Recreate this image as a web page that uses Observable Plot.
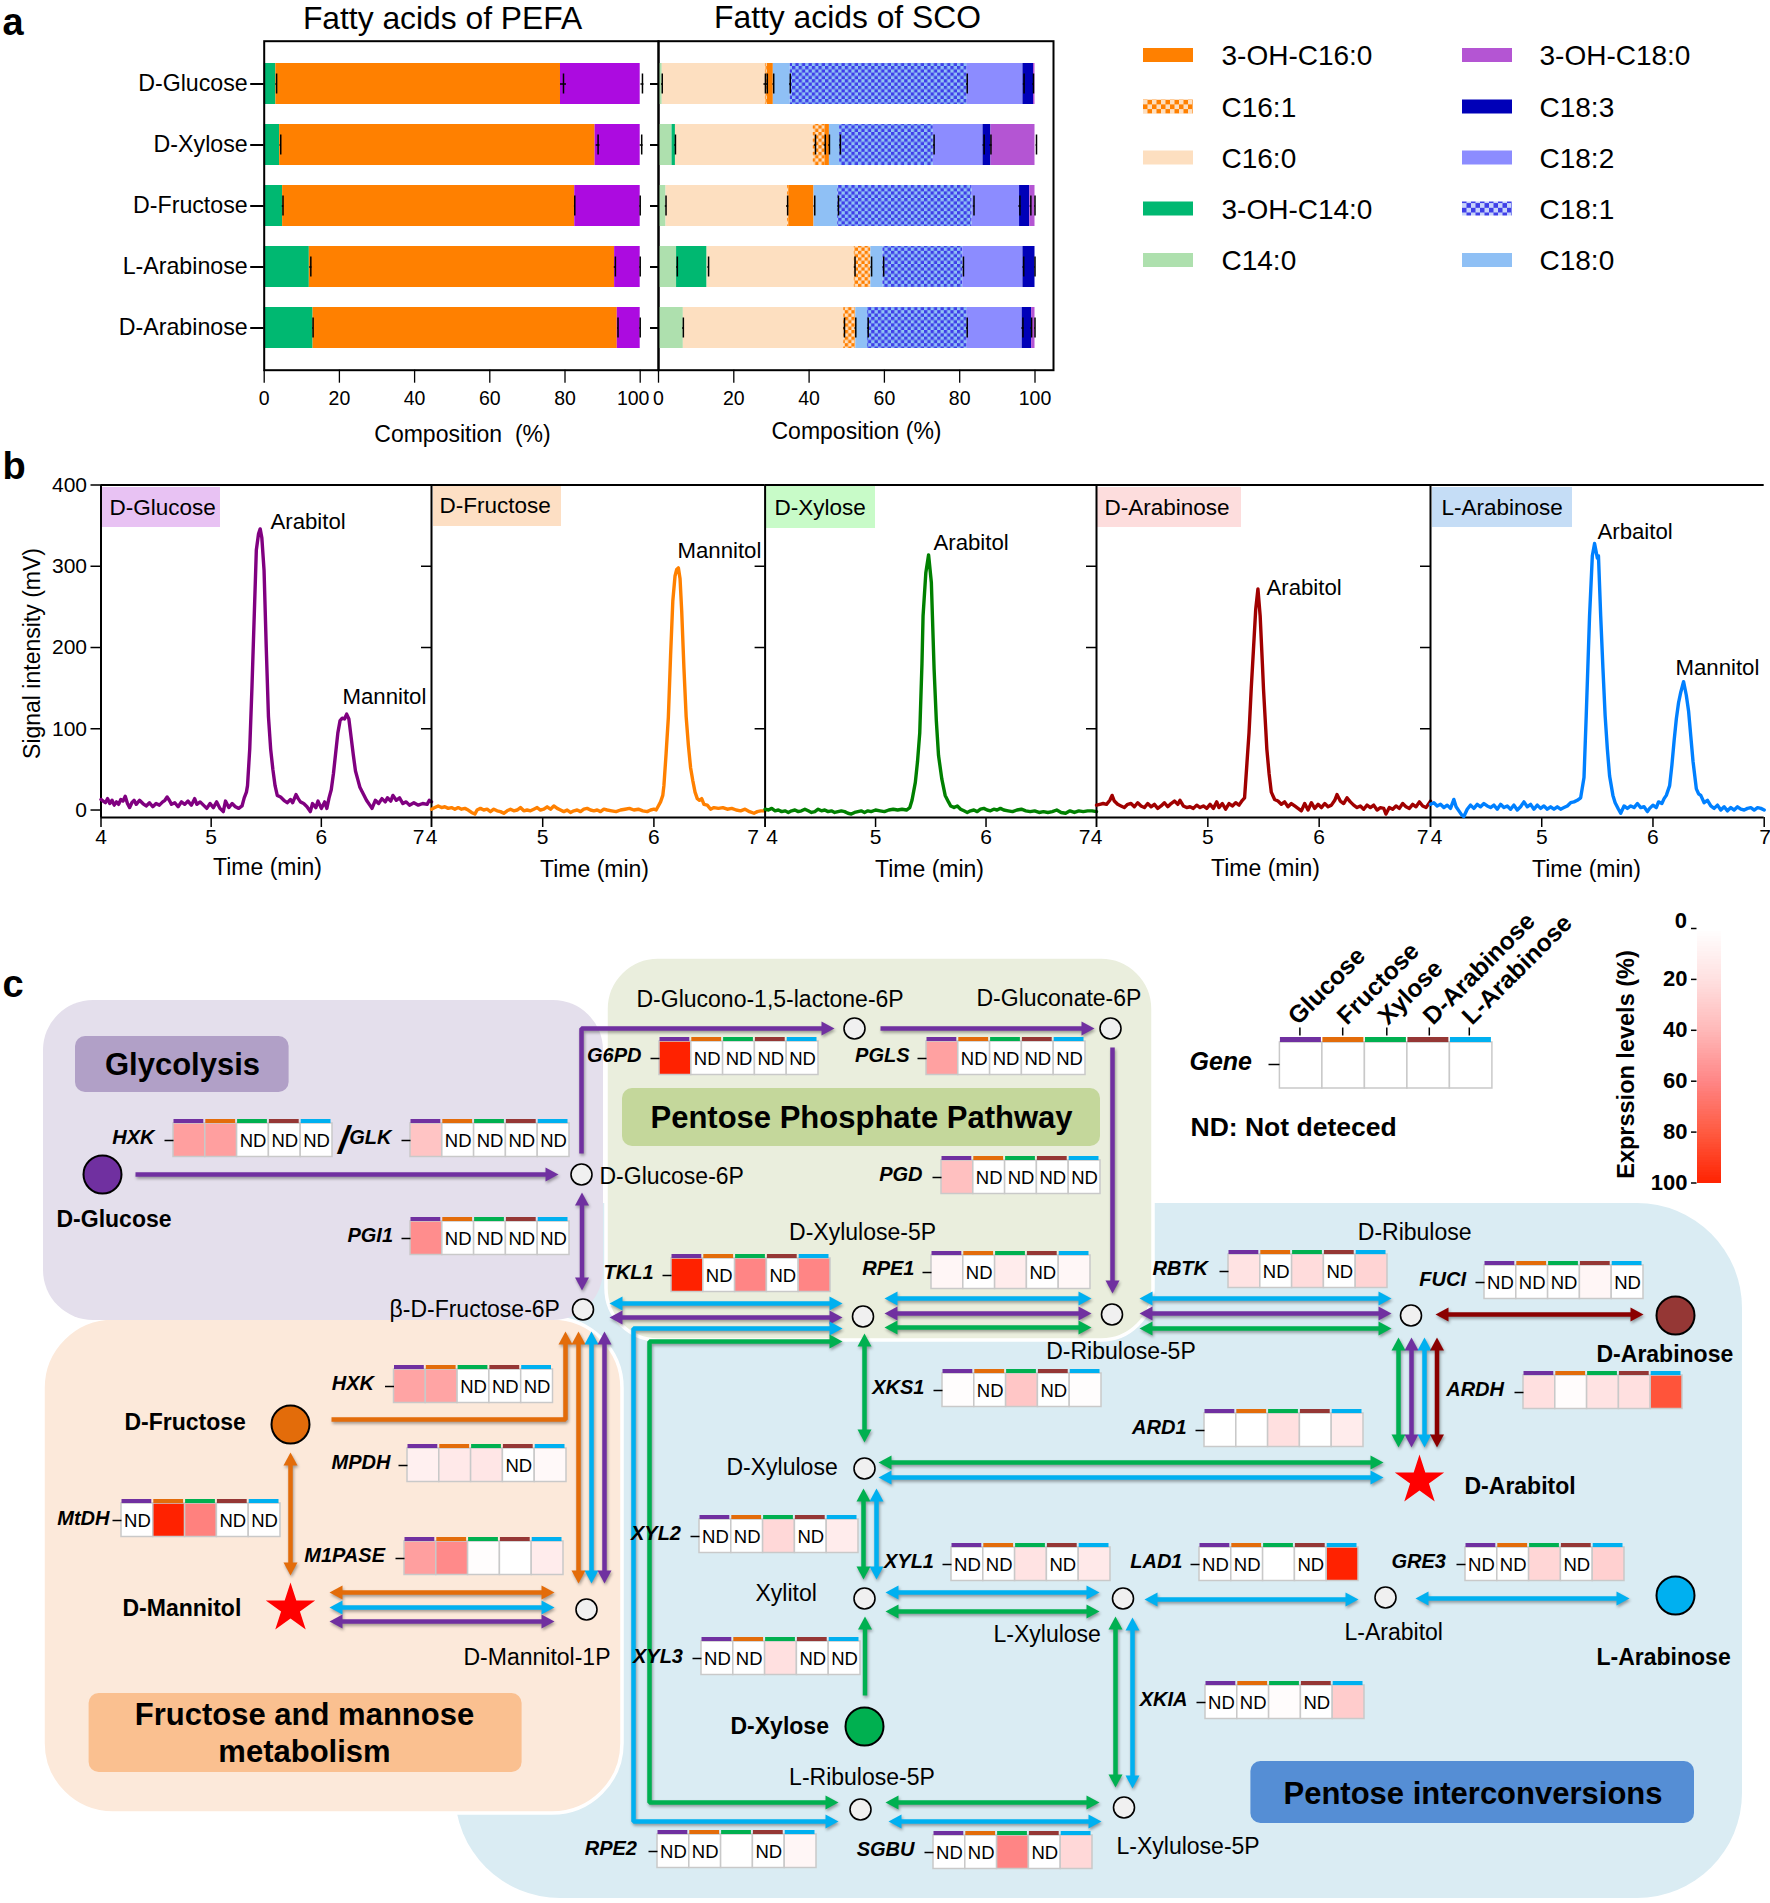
<!DOCTYPE html>
<html><head><meta charset="utf-8">
<script src="https://cdn.jsdelivr.net/npm/d3@7"></script>
<script src="https://cdn.jsdelivr.net/npm/@observablehq/plot@0.6"></script>
<style>
html,body{margin:0;padding:0;background:#fff}
#page{position:relative;width:1770px;height:1903px;overflow:hidden;font-family:"Liberation Sans",Arial,sans-serif}
</style></head><body>
<svg width="0" height="0" style="position:absolute">
<defs>
<pattern id="chkO" patternUnits="userSpaceOnUse" width="6.6" height="6.6"><rect width="6.6" height="6.6" fill="#FDDFC0"/><rect width="3.3" height="3.3" fill="#FF8000"/><rect x="3.3" y="3.3" width="3.3" height="3.3" fill="#FF8000"/></pattern>
<pattern id="chkB" patternUnits="userSpaceOnUse" width="6.6" height="6.6"><rect width="6.6" height="6.6" fill="#8FC0F5"/><rect width="3.3" height="3.3" fill="#3F3FE8"/><rect x="3.3" y="3.3" width="3.3" height="3.3" fill="#3F3FE8"/></pattern>
<pattern id="chkOL" patternUnits="userSpaceOnUse" width="9" height="9.4" x="1143" y="48"><rect width="9" height="9.4" fill="#FDDFC0"/><rect width="4.5" height="4.7" fill="#FF8000"/><rect x="4.5" y="4.7" width="4.5" height="4.7" fill="#FF8000"/></pattern>
<pattern id="chkBL" patternUnits="userSpaceOnUse" width="9" height="9.4" x="1462" y="48"><rect width="9" height="9.4" fill="#C8D4FA"/><rect width="4.5" height="4.7" fill="#3F3FE8"/><rect x="4.5" y="4.7" width="4.5" height="4.7" fill="#3F3FE8"/></pattern>
</defs></svg>
<div id="page"></div>
<script>
// ---------- panel a data ----------
const sugarsA = ["D-Glucose","D-Xylose","D-Fructose","L-Arabinose","D-Arabinose"];
const acidsPEFA = ["3-OH-C14:0","3-OH-C16:0","3-OH-C18:0"];
const pefaValues = {
  "3-OH-C14:0":[3.1,4.1,4.9,12,13],
  "3-OH-C16:0":[75.7,83.9,77.7,81.2,80.9],
  "3-OH-C18:0":[21.2,12,17.4,6.8,6.1]
};
const acidsSCO = ["C14:0","3-OH-C14:0","C16:0","C16:1","3-OH-C16:0","C18:0","C18:1","C18:2","C18:3","3-OH-C18:0"];
const scoValues = {
  "C14:0":[1,3.6,2,4.8,6.6],
  "3-OH-C14:0":[0,0.9,0,8.1,0],
  "C16:0":[27.4,36.6,32.3,39.1,42.6],
  "C16:1":[0.5,3.1,0.3,4.4,3.2],
  "3-OH-C16:0":[1.6,1.2,6.7,0,0],
  "C18:0":[4.5,2.7,6.3,3.2,3.1],
  "C18:1":[47,24.9,35.7,21.2,26.5],
  "C18:2":[14.8,13.2,12.6,16,14.6],
  "C18:3":[2.8,2.1,2.7,3.2,2.5],
  "3-OH-C18:0":[0.4,11.7,1.4,0,0.9]
};
const pefaTicks = [[0,3.3,0.2],[0,79.6,0.8],[0,100.6,0.4],[1,4.4,0.2],[1,88.8,0.5],[1,100.4,0.4],[2,5,0.2],[2,82.6,0.1],[2,100,0.1],[3,12.4,0.3],[3,93.4,0.3],[3,100,0.1],[4,13,0.1],[4,94.1,0.1],[4,100,0.1]];
const scoTicks = [[0,1,0.2],[0,28.4,0.4],[0,28.9,0.2],[0,30.6,0.2],[0,35,0.2],[0,82,0.2],[0,97.1,0.2],[0,99.6,0.2],
 [1,4.5,0.2],[1,41.7,0.3],[1,44.3,0.3],[1,45.4,0.2],[1,48.3,0.2],[1,73.2,0.2],[1,86.5,0.3],[1,88.3,0.3],[1,100.4,0.1],
 [2,2,0.2],[2,34.3,0.3],[2,41.5,0.2],[2,47.8,0.2],[2,83.8,0.2],[2,96,0.3],[2,98.9,0.2],[2,100,0.1],
 [3,5,0.2],[3,13.3,0.2],[3,52.2,0.2],[3,56.6,0.2],[3,59.8,0.2],[3,81,0.2],[3,97,0.2],[3,100,0.1],
 [4,6.6,0.2],[4,49.4,0.2],[4,52.4,0.2],[4,55.7,0.2],[4,82,0.2],[4,96.8,0.3],[4,99.1,0.2],[4,100,0.1]];
const pefaColors = ["#00B871","#FF8000","#AC0BE0"];
const scoColors = ["#AEE0AE","#00B871","#FDDFC0","url(#chkO)","#FF8000","#8FC0F5","url(#chkB)","#8C8CFF","#0000B8","#B455D3"];
const legendLeft = ["3-OH-C16:0","C16:1","C16:0","3-OH-C14:0","C14:0"];
const legendLeftFill = ["#FF8000","url(#chkOL)","#FDDFC0","#00B871","#AEE0AE"];
const legendRight = ["3-OH-C18:0","C18:3","C18:2","C18:1","C18:0"];
const legendRightFill = ["#B455D3","#0000B8","#8C8CFF","url(#chkBL)","#8FC0F5"];
const xTicksA = [0,20,40,60,80,100];

// ---------- panel b data ----------
const sugarsB = ["D-Glucose","D-Fructose","D-Xylose","D-Arabinose","L-Arabinose"];
const traceColors = ["#800080","#FF8000","#008000","#A00000","#0080FF"];
const labelBg = ["#E8C2F3","#FDDFC4","#C8FBC8","#FDDDDD","#C5DDF6"];
const traceGlucose = [[4,13],[4.02,11],[4.04,9],[4.06,14],[4.08,8],[4.1,12],[4.12,6],[4.14,10],[4.16,7],[4.18,13],[4.2,11],[4.22,17],[4.24,8],[4.26,3],[4.28,9],[4.3,12],[4.32,7],[4.35,12],[4.38,8],[4.41,5],[4.44,9],[4.47,4],[4.5,8],[4.53,6],[4.56,10],[4.58,12],[4.6,16],[4.62,12],[4.64,7],[4.67,9],[4.7,4],[4.73,10],[4.76,7],[4.79,11],[4.82,6],[4.85,14],[4.87,7],[4.9,10],[4.93,6],[4.96,2],[4.99,8],[5.02,3],[5.05,10],[5.08,2],[5.11,-2],[5.13,11],[5.16,3],[5.19,8],[5.22,4],[5.25,2],[5.28,5],[5.3,15],[5.32,22],[5.33,30],[5.35,75],[5.37,150],[5.39,235],[5.41,320],[5.43,340],[5.445,346],[5.46,335],[5.48,295],[5.5,200],[5.52,115],[5.54,75],[5.56,50],[5.58,30],[5.6,18],[5.63,16],[5.66,12],[5.69,9],[5.72,13],[5.74,9],[5.77,19],[5.79,14],[5.81,10],[5.84,8],[5.87,4],[5.9,-2],[5.92,8],[5.95,3],[5.97,11],[6,2],[6.03,10],[6.05,2],[6.07,15],[6.09,25],[6.11,45],[6.13,70],[6.15,95],[6.17,110],[6.19,113],[6.21,112],[6.23,118],[6.25,112],[6.27,90],[6.29,68],[6.31,48],[6.33,38],[6.35,28],[6.38,20],[6.41,12],[6.44,6],[6.46,2],[6.49,12],[6.52,8],[6.55,14],[6.58,10],[6.6,15],[6.63,11],[6.65,18],[6.68,12],[6.71,15],[6.74,8],[6.77,10],[6.8,6],[6.84,9],[6.88,6],[6.92,8],[6.96,7],[6.98,12],[7,10]];
const traceFructose = [[4,1],[4.03,3],[4.06,5],[4.09,3],[4.12,4],[4.15,2],[4.18,3],[4.21,1],[4.24,3],[4.27,1],[4.3,2],[4.33,0],[4.36,-3],[4.39,-5],[4.41,0],[4.44,2],[4.47,0],[4.5,1],[4.53,-2],[4.56,1],[4.59,-1],[4.62,-2],[4.65,-4],[4.68,-1],[4.71,1],[4.74,-1],[4.77,0],[4.8,3],[4.83,-1],[4.86,0],[4.89,-1],[4.92,1],[4.95,3],[4.98,0],[5.01,1],[5.04,4],[5.07,1],[5.1,5],[5.13,2],[5.16,0],[5.19,-2],[5.22,0],[5.25,-3],[5.28,-1],[5.31,0],[5.34,-2],[5.37,1],[5.4,2],[5.43,0],[5.46,-1],[5.49,0],[5.52,-2],[5.55,1],[5.58,0],[5.62,-1],[5.66,-2],[5.7,0],[5.74,1],[5.78,2],[5.82,0],[5.86,1],[5.9,-1],[5.94,-2],[5.97,0],[6,1],[6.02,0],[6.04,5],[6.06,10],[6.08,18],[6.09,30],[6.11,70],[6.13,114],[6.15,190],[6.17,257],[6.19,288],[6.205,296],[6.22,298],[6.235,285],[6.25,245],[6.27,175],[6.29,115],[6.31,80],[6.33,52],[6.35,36],[6.37,22],[6.39,14],[6.41,12],[6.43,14],[6.45,7],[6.48,6],[6.51,1],[6.54,3],[6.58,2],[6.62,3],[6.66,1],[6.7,2],[6.74,0],[6.78,-1],[6.82,1],[6.86,-2],[6.9,-4],[6.93,-2],[6.96,-1],[7,-1]];
const traceXylose = [[4,1],[4.03,0],[4.06,2],[4.09,-1],[4.12,0],[4.15,-2],[4.18,-1],[4.21,-3],[4.24,-1],[4.27,0],[4.3,-2],[4.33,-1],[4.36,1],[4.39,-1],[4.42,-3],[4.45,-2],[4.48,1],[4.51,-1],[4.54,0],[4.57,-2],[4.6,-1],[4.63,-3],[4.66,-2],[4.69,-1],[4.72,-2],[4.75,-4],[4.78,-5],[4.81,-3],[4.84,-2],[4.87,-1],[4.9,-3],[4.93,-1],[4.96,-2],[5,0],[5.04,-1],[5.08,-2],[5.12,0],[5.16,1],[5.2,0],[5.24,1],[5.28,0],[5.31,3],[5.33,12],[5.36,34],[5.38,60],[5.4,95],[5.42,180],[5.43,239],[5.455,292],[5.48,314],[5.505,280],[5.53,173],[5.55,110],[5.57,67],[5.6,38],[5.63,18],[5.66,10],[5.68,5],[5.71,3],[5.74,5],[5.77,1],[5.8,-1],[5.83,-3],[5.86,-1],[5.89,0],[5.92,-2],[5.95,1],[5.98,2],[6.01,0],[6.04,-1],[6.07,1],[6.1,0],[6.13,2],[6.16,0],[6.2,-1],[6.24,-2],[6.28,0],[6.32,1],[6.36,-1],[6.4,-2],[6.44,-1],[6.48,-3],[6.52,-2],[6.56,-3],[6.6,-2],[6.64,0],[6.68,-3],[6.72,-4],[6.76,-1],[6.8,-3],[6.84,-1],[6.88,-2],[6.92,-1],[6.96,-1],[7,-2]];
const traceDArabinose = [[4,6],[4.03,7],[4.06,8],[4.09,7],[4.12,12],[4.14,18],[4.16,11],[4.19,7],[4.22,5],[4.25,3],[4.28,7],[4.31,8],[4.34,4],[4.37,9],[4.4,5],[4.43,3],[4.46,8],[4.49,4],[4.52,7],[4.55,2],[4.58,5],[4.61,9],[4.64,4],[4.67,8],[4.7,11],[4.73,7],[4.75,12],[4.78,5],[4.81,3],[4.84,4],[4.87,2],[4.9,6],[4.93,3],[4.96,5],[4.99,2],[5.02,7],[5.05,2],[5.08,10],[5.1,3],[5.13,8],[5.16,1],[5.19,8],[5.22,5],[5.25,9],[5.28,6],[5.31,12],[5.33,15],[5.35,55],[5.37,95],[5.39,150],[5.41,198],[5.43,247],[5.45,272],[5.47,239],[5.49,180],[5.5,149],[5.52,100],[5.53,75],[5.55,45],[5.57,22],[5.6,13],[5.63,11],[5.66,7],[5.69,10],[5.72,4],[5.75,8],[5.78,5],[5.81,2],[5.84,-1],[5.87,8],[5.9,0],[5.93,9],[5.96,2],[5.99,7],[6.02,3],[6.05,8],[6.08,4],[6.11,6],[6.14,12],[6.16,19],[6.19,11],[6.22,8],[6.25,15],[6.28,10],[6.31,6],[6.34,3],[6.37,5],[6.4,1],[6.43,6],[6.46,3],[6.49,6],[6.52,0],[6.55,3],[6.58,2],[6.6,-5],[6.63,3],[6.66,1],[6.69,5],[6.72,2],[6.75,8],[6.78,4],[6.81,2],[6.84,7],[6.87,4],[6.9,10],[6.93,5],[6.96,3],[6.98,7],[7,11]];
const traceLArabinose = [[4,7],[4.03,9],[4.06,5],[4.09,7],[4.12,3],[4.15,6],[4.18,2],[4.21,13],[4.23,4],[4.26,-2],[4.28,-6],[4.3,-8],[4.33,1],[4.36,6],[4.39,2],[4.42,7],[4.45,4],[4.48,8],[4.51,5],[4.54,3],[4.57,6],[4.6,1],[4.63,7],[4.66,3],[4.69,5],[4.72,1],[4.75,6],[4.78,0],[4.81,4],[4.84,10],[4.87,4],[4.9,7],[4.93,1],[4.96,6],[4.99,2],[5.02,5],[5.05,1],[5.08,4],[5.11,1],[5.14,4],[5.17,1],[5.2,3],[5.23,5],[5.26,9],[5.29,10],[5.32,12],[5.35,15],[5.38,40],[5.4,116],[5.43,239],[5.455,313],[5.475,328],[5.5,310],[5.51,313],[5.53,239],[5.55,175],[5.57,116],[5.59,75],[5.61,42],[5.64,18],[5.66,9],[5.69,1],[5.71,-4],[5.74,5],[5.77,2],[5.8,5],[5.83,3],[5.86,8],[5.89,3],[5.92,4],[5.95,-2],[5.97,2],[6,6],[6.03,3],[6.05,10],[6.08,8],[6.1,14],[6.12,18],[6.15,30],[6.17,55],[6.19,85],[6.21,112],[6.23,132],[6.25,145],[6.275,158],[6.29,148],[6.3,141],[6.32,122],[6.34,91],[6.36,60],[6.39,26],[6.41,20],[6.43,18],[6.46,9],[6.49,12],[6.52,5],[6.55,2],[6.58,6],[6.61,0],[6.64,4],[6.67,-1],[6.7,3],[6.73,0],[6.76,4],[6.79,1],[6.82,0],[6.85,2],[6.88,3],[6.91,0],[6.94,3],[6.97,2],[7,0]];
const traces = [traceGlucose,traceFructose,traceXylose,traceDArabinose,traceLArabinose];
const yTicksB = [0,100,200,300,400];
const xTicksB = [4,5,6,7];

// ---------- panel c data ----------
const geneOrder = ["Glucose","Fructose","Xylose","D-Arabinose","L-Arabinose"];
const geneStripe = ["#7030A0","#E36C0A","#00B050","#953735","#00B0F0"];
const ND = null;
const geneNames = ["HXK","GLK","PGI1","G6PD","PGLS","PGD","TKL1","RPE1","XKS1","RBTK","FUCI","ARDH","ARD1","XYL2","XYL1","LAD1","GRE3","XYL3","XKIA","RPE2","SGBU","HXK","MPDH","MtDH","M1PASE"];
const geneLevels = [
 [50,50,ND,ND,ND],[34,ND,ND,ND,ND],[57,ND,ND,ND,ND],[100,ND,ND,ND,ND],[49,ND,ND,ND,ND],[36,ND,ND,ND,ND],
 [100,ND,60,ND,60],[6,ND,12,ND,5],[1,ND,33,ND,1],[18,ND,22,ND,26],[ND,ND,ND,6,ND],[20,2,18,20,82],[0,0,20,0,12],
 [ND,ND,24,ND,12],[ND,ND,18,ND,14],[ND,ND,0,ND,100],[ND,ND,25,ND,28],[ND,ND,20,ND,ND],[ND,ND,2,ND,30],[ND,ND,0,ND,6],[ND,ND,60,ND,24],
 [48,48,ND,ND,ND],[10,14,16,ND,4],[ND,100,62,ND,ND],[50,58,1,0,12]
];
const scaleTicks = [0,20,40,60,80,100];
const scaleRange = ["#ffffff","#ffe0e0","#ffb8b8","#ff8585","#ff5a40","#ff2200"];

// ---------- layout of the pathway diagram (page pixels) ----------
const genePlace = [[173,1119,154,1137],[410,1119,391,1137],[410,1217,392.5,1235],[659,1037,641,1055],[926,1037,909,1055],[941,1156,922,1174],[671,1254,653,1272],[931,1251,914,1268],[942,1369,924,1387],[1228,1250,1207.5,1268],[1484,1261,1465.5,1279],[1523,1371,1503.5,1389],[1204,1409,1186,1427],[699,1515,680.5,1533],[951,1543,933.5,1561],[1199,1543,1182,1561],[1465,1543,1445.5,1561],[701,1637,682.5,1656],[1205,1681,1187,1699],[657,1830,636.5,1848],[933,1831,914,1849],[393.5,1365,373.5,1383],[407,1444,390,1462],[121,1499,109,1518],[404,1537,384.5,1555]];
const regions = [
 [455,1203,1742,1898,105,"#DAECF3",null],
 [43,1318,622,1813,70,"#FCE9DA","#fff"],
 [43,1000,603,1320,50,"#E4DFEC",null],
 [606,957,1153,1340,52,"#EAEEDD","#fff"]
];
const badges = [
 [75,1036,288.6,1092,"#B1A0C7"],[622,1088,1100,1146,"#C4D79B"],[88.6,1693,521.6,1772,"#FAC090"],[1250.4,1761,1694,1823,"#558ED5"]
];
const badgeText = [["Glycolysis",182,1065,31],["Pentose Phosphate Pathway",861,1118,31],["Fructose and mannose",304,1715,31],["metabolism",304,1752,31],["Pentose interconversions",1472.5,1794,31]];
const P="#7030A0",O="#E36C0A",G="#00B050",R="#8B0000",B="#00B0F0";
const arrowsOne = [
 [P,[[135,1174],[558,1174]]],[P,[[581,1153],[581,1028],[834,1028]]],[P,[[880,1028],[1094,1028]]],[P,[[1112,1047],[1112,1293]]],
 [G,[[864.5,1695],[864.5,1616]]],[O,[[331,1419],[565,1419],[565,1331]]]
];
const arrowsTwo = [
 [P,[[581.5,1192],[581.5,1290]]],[B,[[609,1303],[842,1303]]],[P,[[609,1317],[842,1317]]],
 [B,[[838,1821],[633,1821],[633,1328],[842,1328]]],[G,[[838,1802],[649,1802],[649,1341],[842,1341]]],
 [B,[[884,1298],[1091,1298]]],[P,[[884,1313],[1091,1313]]],[G,[[884,1327],[1091,1327]]],
 [B,[[1139,1298],[1391,1298]]],[P,[[1139,1313],[1391,1313]]],[G,[[1139,1328],[1391,1328]]],
 [R,[[1435,1314],[1643,1314]]],
 [G,[[1398,1337],[1398,1447]]],[P,[[1411,1337],[1411,1447]]],[B,[[1424,1337],[1424,1447]]],[R,[[1436.5,1337],[1436.5,1447]]],
 [G,[[864,1333],[864,1442]]],[G,[[878,1462],[1383,1462]]],[B,[[878,1477],[1383,1477]]],
 [G,[[863,1488],[863,1579]]],[B,[[876,1488],[876,1579]]],
 [B,[[885,1592],[1099,1592]]],[G,[[885,1611],[1099,1611]]],
 [G,[[1115,1616],[1115,1787]]],[B,[[1132,1617],[1132,1788]]],
 [G,[[885,1802],[1099,1802]]],[B,[[888,1821],[1101,1821]]],
 [B,[[1144,1599],[1358,1599]]],[B,[[1415,1598],[1629,1598]]],
 [O,[[578,1331],[578,1583]]],[B,[[591,1331],[591,1583]]],[P,[[604,1331],[604,1583]]],
 [O,[[290,1452],[290,1575]]],
 [O,[[329,1592],[554,1592]]],[B,[[329,1607],[554,1607]]],[P,[[329,1621],[554,1621]]]
];
const smallNodes = [[581,1174],[582.5,1309],[854,1028],[1110,1028],[862.5,1316],[1111.5,1314],[1410.5,1315],[864,1468],[864,1598],[1122.5,1598],[860,1809],[1123.5,1807],[1385,1597],[586,1609]];
const bigNodes = [[102,1174,P],[290,1424,O],[864,1726,G],[1675,1315,"#953735"],[1675,1595,B]];
const stars = [[290,1608],[1419,1480]];
const nodeLabels = [["D-Glucono-1,5-lactone-6P",636,999],["D-Gluconate-6P",976,998],["D-Glucose-6P",599,1176],["β-D-Fructose-6P",389,1309],["D-Xylulose-5P",788.6,1232],["D-Ribulose-5P",1045.7,1351],["D-Ribulose",1357.3,1232],["D-Xylulose",726,1467],["Xylitol",755,1593],["L-Xylulose",993,1634],["L-Ribulose-5P",788.6,1777],["L-Xylulose-5P",1116,1846],["L-Arabitol",1344,1632],["D-Mannitol-1P",463,1657]];
const boldLabels = [["D-Glucose",56,1219],["D-Fructose",124,1422],["D-Mannitol",122,1608],["D-Xylose",730,1726],["D-Arabinose",1596,1354],["D-Arabitol",1464,1486],["L-Arabinose",1596,1657]];
const keyPlace = [[1292,1020],[1341,1020],[1382,1020],[1427,1020],[1466,1020]];
const keyTicks = [1299.4,1342.2,1386.3,1428.8,1468.8];

// ---------- helpers ----------
const FONT = '"Liberation Sans",Arial,sans-serif';
const pageEl = document.getElementById("page");
const baseStyle = {background:"transparent",position:"absolute",left:"0",top:"0",fontFamily:FONT,color:"#000",overflow:"visible"};
const add = (svg)=>{svg.style.maxWidth="none";pageEl.appendChild(svg);};
function headMarker(){
  const NS="http://www.w3.org/2000/svg";
  return (color)=>{
    const m=document.createElementNS(NS,"marker");
    m.setAttribute("viewBox","-6 -7.5 15 15");
    m.setAttribute("markerUnits","userSpaceOnUse");
    m.setAttribute("markerWidth","15");m.setAttribute("markerHeight","15");
    m.setAttribute("refX","0");m.setAttribute("refY","0");
    m.setAttribute("orient","auto-start-reverse");
    const p=document.createElementNS(NS,"path");
    p.setAttribute("d","M-5,-7L8,0L-5,7Z");p.setAttribute("fill",color);
    m.appendChild(p);return m;
  };
}
// tip coordinates to line ends: the head reaches 8px past the line's end
function pull(a,b){const dx=b[0]-a[0],dy=b[1]-a[1],l=Math.hypot(dx,dy);return [a[0]+dx/l*8,a[1]+dy/l*8];}
function arrowRows(list,both){
  const rows=[];
  list.forEach(([color,pts],id)=>{
    const q=pts.map(p=>p.slice());
    q[q.length-1]=pull(q[q.length-1],q[q.length-2]);
    if(both) q[0]=pull(q[0],q[1]);
    q.forEach(p=>rows.push({id,color,x:p[0],y:p[1]}));
  });
  return rows;
}
const textRows=(list,size,extra={})=>Plot.text(list,{x:d=>d[1],y:d=>d[2],text:d=>d[0],fontSize:size,textAnchor:"start",fill:"#000",...extra});

// ---------- diagram and free text (page pixel frame) ----------
const cells=[],stripes=[],ndText=[],dashes=[],names=[];
const CW=31.8,CH=33.5;
geneNames.forEach((name,g)=>{
  const [x0,y0,nr,ny]=genePlace[g];
  names.push({name,x:nr,y:ny});
  dashes.push({x1:x0-9,x2:x0,y:y0+21});
  geneLevels[g].forEach((lv,i)=>{
    const x=x0+i*CW;
    cells.push({x1:x,x2:x+CW,y1:y0+4,y2:y0+4+CH,lv:lv==null?0:lv});
    stripes.push({x1:x+0.5,x2:x+CW-1.5,y1:y0,y2:y0+4,c:geneStripe[i]});
    if(lv==null) ndText.push({x:x+CW/2,y:y0+22});
  });
});
const KW=42.5;
const keyCells=geneOrder.map((n,i)=>({x1:1279.4+i*KW,x2:1279.4+(i+1)*KW,y1:1042,y2:1088,lv:0}));
const keyStripes=geneOrder.map((n,i)=>({x1:1279.4+i*KW+0.5,x2:1279.4+(i+1)*KW-1,y1:1037,y2:1042,c:geneStripe[i]}));

const legendRows=[
 ...legendLeft.map((t,i)=>({t,f:legendLeftFill[i],sx:1143,tx:1221,y:[55,106.5,157.5,208.5,260][i]})),
 ...legendRight.map((t,i)=>({t,f:legendRightFill[i],sx:1462,tx:1539,y:[55,106.5,157.5,208.5,260][i]}))
];
const shadow="drop-shadow(1px 2px 1.5px rgba(0,0,0,.35))";
add(Plot.plot({
  width:1770,height:1903,margin:0,style:baseStyle,
  x:{domain:[0,1770],range:[0,1770],axis:null},
  y:{domain:[0,1903],range:[0,1903],axis:null},
  color:{type:"linear",domain:scaleTicks,range:scaleRange},
  marks:[
    ...regions.map(r=>Plot.rect([r],{x1:d=>d[0],y1:d=>d[1],x2:d=>d[2],y2:d=>d[3],rx:r[4],fill:r[5],stroke:r[6]||"none",strokeWidth:3.5})),
    Plot.rect(badges,{x1:d=>d[0],y1:d=>d[1],x2:d=>d[2],y2:d=>d[3],fill:d=>d[4],rx:10}),
    ...badgeText.map(b=>Plot.text([b],{x:d=>d[1],y:d=>d[2],text:d=>d[0],fontSize:b[3],fontWeight:"bold",fill:"#000"})),
    // arrows
    Plot.line(arrowRows(arrowsOne,false),{x:"x",y:"y",z:"id",stroke:"color",strokeWidth:4.5,curve:"linear",strokeLinejoin:"miter",strokeLinecap:"butt",markerEnd:headMarker(),imageFilter:shadow}),
    Plot.line(arrowRows(arrowsTwo,true),{x:"x",y:"y",z:"id",stroke:"color",strokeWidth:4.5,curve:"linear",strokeLinejoin:"miter",strokeLinecap:"butt",markerStart:headMarker(),markerEnd:headMarker(),imageFilter:shadow}),
    // gene boxes
    Plot.rect(cells,{x1:"x1",x2:"x2",y1:"y1",y2:"y2",fill:"lv",stroke:"#c9c9c9",strokeWidth:1.5}),
    Plot.rect(stripes,{x1:"x1",x2:"x2",y1:"y1",y2:"y2",fill:"c"}),
    Plot.text(ndText,{x:"x",y:"y",text:()=>"ND",fontSize:18.5,fill:"#000"}),
    Plot.link(dashes,{x1:"x1",x2:"x2",y1:"y",y2:"y",stroke:"#000",strokeWidth:1.5}),
    Plot.text(names,{x:"x",y:"y",text:"name",fontSize:20,fontWeight:"bold",fontStyle:"italic",textAnchor:"end",fill:"#000"}),
    Plot.text(["/"],{x:()=>343,y:()=>1140,text:d=>d,fontSize:38,fontWeight:"bold",fontStyle:"italic",fill:"#000"}),
    // nodes
    Plot.dot(smallNodes,{x:d=>d[0],y:d=>d[1],r:10.5,fill:"#F0F0F0",stroke:"#000",strokeWidth:1.6}),
    Plot.dot(bigNodes,{x:d=>d[0],y:d=>d[1],r:19,fill:d=>d[2],stroke:"#000",strokeWidth:2}),
    Plot.dot(stars,{x:d=>d[0],y:d=>d[1],r:15.5,symbol:"star",fill:"#FF0000",stroke:"none"}),
    textRows(nodeLabels,23),
    textRows(boldLabels,23,{fontWeight:"bold"}),
    // key
    Plot.rect(keyCells,{x1:"x1",x2:"x2",y1:"y1",y2:"y2",fill:"#fff",stroke:"#c9c9c9",strokeWidth:1.5}),
    Plot.rect(keyStripes,{x1:"x1",x2:"x2",y1:"y1",y2:"y2",fill:"c"}),
    Plot.link(keyTicks,{x1:d=>d,x2:d=>d,y1:()=>1027,y2:()=>1035,stroke:"#000",strokeWidth:1.5}),
    Plot.text(geneOrder,{x:(d,i)=>keyPlace[i][0],y:(d,i)=>keyPlace[i][1],text:d=>d,rotate:-45,fontSize:24.6,fontWeight:"bold",textAnchor:"start",fill:"#000"}),
    Plot.text(["Gene"],{x:()=>1189,y:()=>1061,text:d=>d,fontSize:25,fontWeight:"bold",fontStyle:"italic",textAnchor:"start",fill:"#000"}),
    Plot.link([0],{x1:()=>1268,x2:()=>1279,y1:()=>1064,y2:()=>1064,stroke:"#000",strokeWidth:1.5}),
    Plot.text(["ND: Not deteced"],{x:()=>1190,y:()=>1127,text:d=>d,fontSize:26.5,fontWeight:"bold",textAnchor:"start",fill:"#000"}),
    Plot.text(["Exprssion levels (%)"],{x:()=>1626,y:()=>1064,text:d=>d,fontSize:23.5,fontWeight:"bold",rotate:-90,fill:"#000"}),
    // panel letters
    Plot.text(["a","b","c"],{x:()=>2,y:(d,i)=>[33,477,995][i],text:d=>d,fontSize:38,fontWeight:"bold",textAnchor:"start",lineAnchor:"bottom",dy:1,fill:"#000"}),
    // panel a free text and legend
    Plot.text([["Fatty acids of PEFA",442,18],["Fatty acids of SCO",847,17.5]],{x:d=>d[1],y:d=>d[2],text:d=>d[0],fontSize:31.8,fill:"#000"}),
    Plot.text([["Composition  (%)",462,434],["Composition (%)",856,431]],{x:d=>d[1],y:d=>d[2],text:d=>d[0],fontSize:23,fill:"#000",style:"white-space:pre"}),
    Plot.rect(legendRows,{x1:"sx",x2:d=>d.sx+50,y1:d=>d.y-7,y2:d=>d.y+7,fill:"f"}),
    Plot.text(legendRows,{x:"tx",y:d=>d.y+1,text:"t",fontSize:28,textAnchor:"start",fill:"#000"}),
    // panel b free text
    Plot.text(["Signal intensity (mV)"],{x:()=>32,y:()=>653,text:d=>d,fontSize:23,rotate:-90,fill:"#000"}),
    Plot.text([[267,867],[594,869],[929,869],[1265,868],[1586,869]],{x:d=>d[0],y:d=>d[1],text:()=>"Time (min)",fontSize:23,fill:"#000"}),
    Plot.rect([[102,220,487,527],[433,561,486,526],[766,875,486,528],[1097,1241,487,527],[1432,1572,487,527]],{x1:d=>d[0],x2:d=>d[1],y1:d=>d[2],y2:d=>d[3],fill:(d,i)=>labelBg[i]}),
    Plot.text(sugarsB,{x:(d,i)=>[109,439,774,1104,1441][i],y:(d,i)=>[507,505,507,507,507][i],text:d=>d,fontSize:22.5,textAnchor:"start",fill:"#000"}),
    Plot.text([["Arabitol",270,521],["Mannitol",342,696],["Mannitol",677,550],["Arabitol",933,542],["Arabitol",1266,587],["Arbaitol",1597,531],["Mannitol",1675,667]],{x:d=>d[1],y:d=>d[2],text:d=>d[0],fontSize:22.2,textAnchor:"start",fill:"#000"})
  ]
}));

// ---------- panel a ----------
function stackRows(table,order){
  const rows=[];
  order.forEach(acid=>table[acid].forEach((value,i)=>{ if(value>0) rows.push({sugar:sugarsA[i],acid,value}); }));
  return rows;
}
function barPanel({left,right,zero,order,table,colors,errs,labels,lastShift}){
  const H=460,top=40.7,bottom=369.7;
  const hundred=zero===263.7?639.7:1034.5;
  const xMax=(right-zero)/(hundred-zero)*100;
  const E=errs.map(([s,x,e])=>({sugar:sugarsA[s],x,e}));
  return Plot.plot({
    width:1770,height:H,marginLeft:left,marginRight:1770-right,marginTop:top,marginBottom:H-bottom,style:baseStyle,
    x:{domain:[0,xMax],axis:null},
    y:{domain:sugarsA,range:[51.1,359.9],paddingInner:0.335,paddingOuter:0.1675,axis:null},
    color:{domain:order,range:colors},
    marks:[
      Plot.barX(stackRows(table,order),{x:"value",y:"sugar",fill:"acid",order}),
      Plot.tickX(E,{x:"x",y:"sugar",insetTop:10.5,insetBottom:10.5,stroke:"#000",strokeWidth:1.5}),
      Plot.ruleY(E,{y:"sugar",x1:d=>d.x-d.e,x2:d=>d.x+d.e,stroke:"#000",strokeWidth:1.5}),
      Plot.axisX({anchor:"bottom",ticks:xTicksA,tickSize:13,tickFormat:()=>"",label:null,strokeWidth:1.3}),
      ...xTicksA.map(t=>Plot.text([t],{x:d=>d,frameAnchor:"bottom",dy:21,dx:t===100?lastShift:0,text:d=>String(d),fontSize:19.5,fill:"#000",lineAnchor:"top"})),
      labels
        ? Plot.axisY({anchor:"left",tickSize:13.5,tickPadding:3,fontSize:23.2,label:null,strokeWidth:2})
        : Plot.axisY({anchor:"left",tickSize:8,tickFormat:()=>"",label:null,strokeWidth:2}),
      Plot.frame({stroke:"#000",strokeWidth:2,fill:"none"})
    ]
  });
}
add(barPanel({left:263.7,right:658,zero:263.7,order:acidsPEFA,table:pefaValues,colors:pefaColors,errs:pefaTicks,labels:true,lastShift:-7}));
add(barPanel({left:658,right:1053,zero:658,order:acidsSCO,table:scoValues,colors:scoColors,errs:scoTicks,labels:false,lastShift:0}));

// ---------- panel b ----------
const xRanges=[[100.5,431],[431,764.6],[764.6,1096],[1096,1430],[1430,1763.7]];
const xLabelShift=[[0,0,0,-13],[0,0,0,-12],[7,0,0,-12],[0,0,0,-8],[6,0,0,1]];
traces.forEach((trace,k)=>{
  const [a,b]=xRanges[k],H=900;
  add(Plot.plot({
    width:1770,height:H,marginLeft:a,marginRight:1770-b,marginTop:484.5,marginBottom:H-817,style:baseStyle,
    x:{domain:[4,7],axis:null},
    y:{domain:[-9.2,400],axis:null},
    marks:[
      Plot.ruleY([400,-9.2],{stroke:"#000",strokeWidth:2}),
      Plot.ruleX([4],{stroke:"#000",strokeWidth:2}),
      k===0
        ? Plot.axisY({anchor:"left",ticks:yTicksB,tickSize:10,tickPadding:4,fontSize:21,label:null,strokeWidth:1.5})
        : Plot.axisY({anchor:"left",ticks:[100,200,300],tickSize:10,tickFormat:()=>"",label:null,strokeWidth:1.5}),
      Plot.axisX({anchor:"bottom",ticks:xTicksB,tickSize:10,tickFormat:()=>"",label:null,strokeWidth:1.5}),
      ...xTicksB.map((t,i)=>Plot.text([t],{x:d=>d,frameAnchor:"bottom",dy:26,dx:xLabelShift[k][i],text:d=>String(d),fontSize:21,fill:"#000"})),
      Plot.line(trace,{x:d=>d[0],y:d=>d[1],stroke:traceColors[k],strokeWidth:3.4,curve:"linear",strokeLinejoin:"round"})
    ]
  }));
});

// ---------- colour scale bar ----------
add(Plot.plot({
  width:1770,height:1300,marginLeft:1696.5,marginRight:48.6,marginTop:928,marginBottom:1300-1182.5,style:baseStyle,
  x:{domain:[0,1],axis:null},
  y:{domain:[0,100],reverse:true,axis:null},
  color:{type:"linear",domain:scaleTicks,range:scaleRange},
  marks:[
    Plot.rect(d3.range(0,100),{x1:()=>0,x2:()=>1,y1:d=>d,y2:d=>d+1,fill:d=>d,shapeRendering:"crispEdges"}),
    Plot.axisY({anchor:"left",ticks:scaleTicks,tickSize:5.5,tickPadding:4,fontSize:22,fontWeight:"bold",label:null,strokeWidth:1.5,tickFormat:d=>d===0?"":String(d)}),
    Plot.text([0],{y:d=>d,frameAnchor:"left",dx:-10,dy:-8,text:d=>String(d),fontSize:22,fontWeight:"bold",textAnchor:"end",fill:"#000"})
  ]
}));
</script>
</body></html>
